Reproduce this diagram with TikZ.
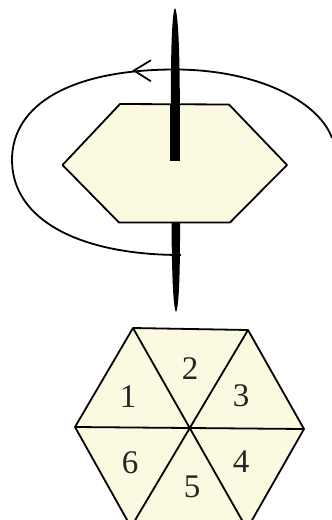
\documentclass[tikz,border=0pt]{standalone}
\usepackage{fontspec}
\setmainfont{Liberation Serif}
\definecolor{hexfill}{HTML}{FBF9E0}
\tikzset{
  facet/.style={draw=black,fill=hexfill,line width=1.8pt,line join=round},
  numeral/.style={inner sep=0pt,font=\fontsize{33}{33}\selectfont,text=black!85},
  spoke/.style={draw=black,line width=1.8pt},
  loopline/.style={draw=black,line width=1.8pt}
}
\begin{document}
\begin{tikzpicture}[x=1pt,y=-1pt]
\useasboundingbox (0,0) rectangle (332,520);
\clip (0,0) rectangle (332,520);
% spindle, upper part
\fill[black] (175,8) .. controls (172,12) and (170.8,50) .. (170.8,104) -- (179.8,104) .. controls (179.8,50) and (178,12) .. (175,8) -- cycle;
% upper hexagon
\draw[facet] (62.5,165) -- (120,104) -- (229,104.5) -- (287,165) -- (230,222.5) -- (119,222.5) -- cycle;
\fill[black] (170.3,104) rectangle (180.3,161);
% spindle, lower part
\fill[black] (171.5,222.5) -- (180,222.5) .. controls (180.2,270) and (179,308) .. (176,312) .. controls (173,308) and (171.8,270) .. (171.5,222.5) -- cycle;
% rotation loop
\coordinate (loopstart) at (181,255);
\coordinate (looptop) at (175,69.5);
\coordinate (loopend) at (332,138);
\draw[loopline] (loopstart) .. controls (80,255) and (12,220) .. (12,160)
  .. controls (12,105) and (70,69.5) .. (looptop)
  .. controls (255,69.5) and (318,100) .. (loopend);
\coordinate (tipa) at (150.5,60.5);
\coordinate (tipb) at (134,70.5);
\coordinate (tipc) at (150.5,81);
\draw[loopline,line cap=round] (tipa) -- (tipb) -- (tipc);
% lower hexagon
\coordinate (C) at (189,428);
\coordinate (A) at (133,328);
\coordinate (B) at (248,330);
\coordinate (D) at (304,429);
\coordinate (E) at (247,529);
\coordinate (F) at (131,527);
\coordinate (G) at (75,427);
\fill[hexfill] (A) -- (B) -- (D) -- (E) -- (F) -- (G) -- cycle;
\draw[facet,fill=none] (A) -- (B) -- (D) -- (E) -- (F) -- (G) -- cycle;
\draw[spoke] (A) -- (E) (B) -- (F) (G) -- (D);
\node[numeral] (n1) at (128,397) {1};
\node[numeral] (n2) at (190,369) {2};
\node[numeral] (n3) at (241,396) {3};
\node[numeral] (n4) at (241,462) {4};
\node[numeral] (n5) at (192,487) {5};
\node[numeral] (n6) at (130,463) {6};
\end{tikzpicture}
\end{document}
